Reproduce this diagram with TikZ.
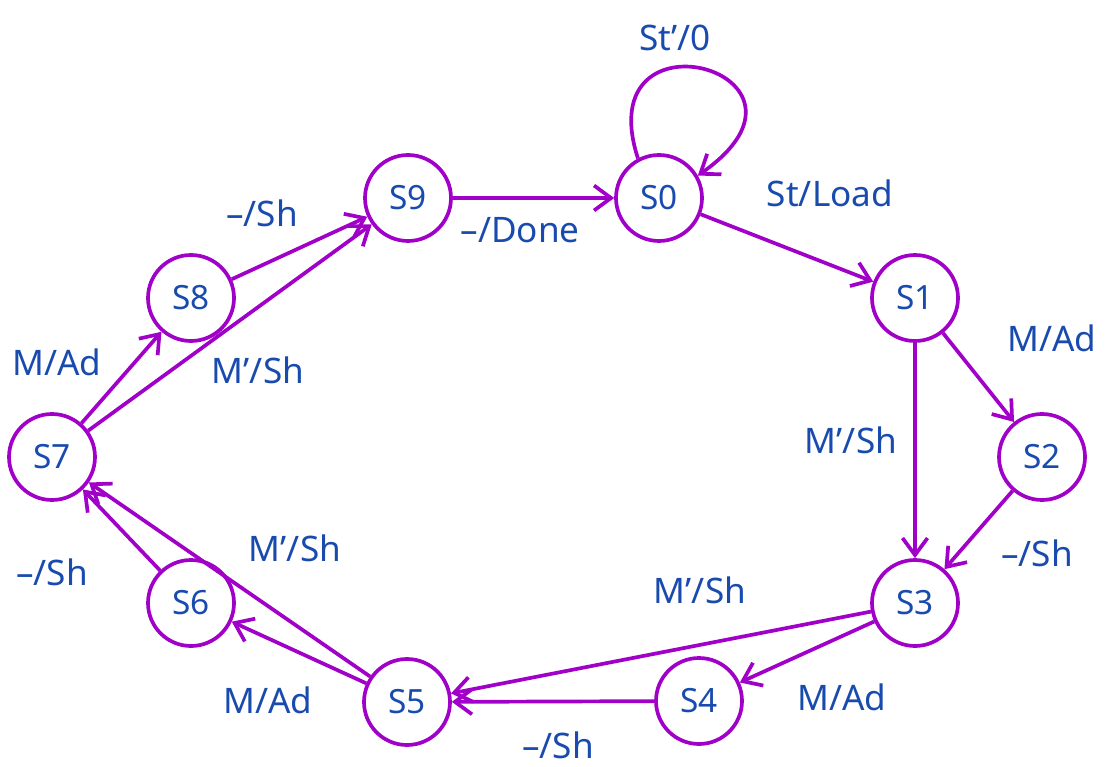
\documentclass[tikz,border=0pt]{standalone}
\usepackage{fontspec}
\setmainfont{Noto Sans}
\usepackage{tikz}
\usetikzlibrary{arrows.meta}
\definecolor{fsmpurple}{RGB}{160,0,200}
\definecolor{fsmblue}{RGB}{25,75,175}

\begin{document}
\begin{tikzpicture}[>={Straight Barb[length=3.4mm,width=5mm]}, line width=2.1pt,
    state/.style={circle, draw=fsmpurple, minimum size=1.72cm, inner sep=0pt, text=fsmblue, font=\fontsize{19}{23}\selectfont},
    trans/.style={->, draw=fsmpurple},
    lbl/.style={text=fsmblue, font=\fontsize{20}{24}\selectfont}]
    \useasboundingbox (0,0) rectangle (22.2,15.32);
	% states
	\node[state] (s0) at (13.18,11.36) {S0};
	\node[state] (s1) at (18.3,9.36) {S1};
	\node[state] (s2) at (20.84,6.18) {S2};
	\node[state] (s3) at (18.3,3.26) {S3};
	\node[state] (s4) at (13.98,1.3) {S4};
	\node[state] (s5) at (8.14,1.28) {S5};
	\node[state] (s6) at (3.82,3.26) {S6};
	\node[state] (s7) at (1.04,6.18) {S7};
	\node[state] (s8) at (3.82,9.36) {S8};
	\node[state] (s9) at (8.16,11.36) {S9};
	% transitions
	\draw[trans] (s0.118) .. controls +(108:3.3) and +(35:3.6) .. (s0.30);
	\draw[trans] (s9) -- (s0);
	\draw[trans] (s0) -- (s1);
	\draw[trans] (s1) -- (s2);
	\draw[trans] (s1) -- (s3);
	\draw[trans] (s2) -- (s3);
	\draw[trans] (s3) -- (s4);
	\draw[trans] (s3) -- (s5);
	\draw[trans] (s4) -- (s5);
	\draw[trans] (s5) -- (s6);
	\draw[trans] (s5) -- (s7);
	\draw[trans] (s6) -- (s7);
	\draw[trans] (s7) -- (s8);
	\draw[trans] (s7) -- (s9);
	\draw[trans] (s8) -- (s9);
	% labels
	\node[lbl] (l00) at (13.5,14.56) {St'/0};
	\node[lbl] (l01) at (16.6,11.46) {St/Load};
	\node[lbl] (l90) at (10.4,10.72) {--/Done};
	\node[lbl] (l89) at (5.24,11.06) {--/Sh};
	\node[lbl] (l12) at (21.04,8.56) {M/Ad};
	\node[lbl] (l13) at (17.02,6.52) {M'/Sh};
	\node[lbl] (l23) at (20.74,4.26) {--/Sh};
	\node[lbl] (l35) at (14.0,3.52) {M'/Sh};
	\node[lbl] (l34) at (16.84,1.38) {M/Ad};
	\node[lbl] (l45) at (11.16,0.42) {--/Sh};
	\node[lbl] (l56) at (5.36,1.32) {M/Ad};
	\node[lbl] (l57) at (5.9,4.36) {M'/Sh};
	\node[lbl] (l67) at (1.04,3.88) {--/Sh};
	\node[lbl] (l78) at (1.14,8.08) {M/Ad};
	\node[lbl] (l79) at (5.16,7.92) {M'/Sh};
\end{tikzpicture}
\end{document}
